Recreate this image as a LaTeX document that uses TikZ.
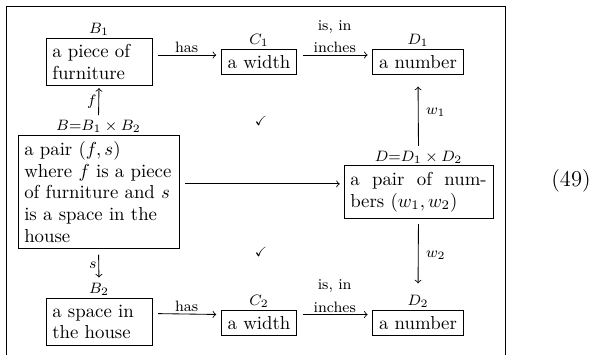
\documentclass[tikz,border=0pt]{standalone}
\usepackage{amssymb}
\usetikzlibrary{positioning}
\begin{document}
\begin{tikzpicture}[x=0.532pt,y=-0.532pt,
  box/.style={draw, line width=0.5pt, inner sep=3.33pt, font=\fontsize{10}{11.5}\selectfont},
  lab/.style={font=\footnotesize, inner sep=1pt},
  arr/.style={->, line width=0.45pt},
]
\useasboundingbox (0,0) rectangle (594,355);
\draw[line width=0.5pt] (6,355) -- (6,6) -- (505,6) -- (505,355);

% nodes
\node[box, text width=49.7pt, align=left] (B1) at (99,62) {a piece of\\furniture};
\node[box] (C1) at (259,62) {a width};
\node[box] (D1) at (418,62) {a number};
\node[box, text width=79pt, align=left] (B) at (98.5,192) {a pair $(f,s)$\\where $f$ is a piece\\of furniture and $s$\\is a space in the\\house};
\node[box, text width=72.6pt, align=left] (D) at (418.5,192) {\makebox[72.6pt][s]{a\hfill pair\hfill of\hfill num-}\\bers $(w_1,w_2)$};
\node[box, text width=49.7pt, align=left] (B2) at (99,322) {a space in\\the house};
\node[box] (C2) at (259,323) {a width};
\node[box] (D2) at (418,323) {a number};

% labels above boxes
\node[lab, above=0pt of B1] (lB1) {$B_1$};
\node[lab, above=0pt of C1] (lC1) {$C_1$};
\node[lab, above=0pt of D1] (lD1) {$D_1$};
\node[lab, above=0pt of B] (lB) {$B{=}B_1\times B_2$};
\node[lab, above=0pt of D] (lD) {$D{=}D_1\times D_2$};
\node[lab, above=0pt of B2] (lB2) {$B_2$};
\node[lab, above=0pt of C2] (lC2) {$C_2$};
\node[lab, above=0pt of D2] (lD2) {$D_2$};

% checkmarks and equation number
\node[font=\scriptsize] (ck1) at (261,121) {$\checkmark$};
\node[font=\scriptsize] (ck2) at (261,252) {$\checkmark$};
\node[font=\fontsize{12}{14}\selectfont] (eq) at (571,181) {(49)};

% arrows
\draw[arr, shorten <=3pt, shorten >=2.5pt] ([yshift=3.7pt]B1.east) -- node[lab, above] {has} ([yshift=3.7pt]C1.west);
\draw[arr, shorten <=3pt, shorten >=2.5pt] ([yshift=3.7pt]C1.east) -- node[lab, above, align=center] {is, in\\[2.5pt]inches} ([yshift=3.7pt]D1.west);
\draw[arr, shorten <=3pt, shorten >=2.5pt] ([yshift=4.5pt]B2.east) -- node[lab, above] {has} ([yshift=4.5pt]C2.west);
\draw[arr, shorten <=3pt, shorten >=2.5pt] ([yshift=4.5pt]C2.east) -- node[lab, above, align=center] {is, in\\[2.5pt]inches} ([yshift=4.5pt]D2.west);
\draw[arr, shorten <=3pt, shorten >=2pt] ([yshift=4.3pt]B.east) -- ([yshift=4.3pt]D.west);
\draw[arr, shorten <=1.5pt, shorten >=1pt] (lB.north) -- node[lab, left] {$f$} (B1.south);
\draw[arr, shorten <=3pt, shorten >=2pt] (B.south) -- node[lab, left] {$s$} (lB2.north);
\draw[arr, shorten <=1.5pt, shorten >=6pt] (lD.north) -- node[lab, right, xshift=3pt] {$w_1$} (D1.south);
\draw[arr, shorten <=3pt, shorten >=5pt] (D.south) -- node[lab, right, xshift=3pt] {$w_2$} (lD2.north);
\end{tikzpicture}
\end{document}
